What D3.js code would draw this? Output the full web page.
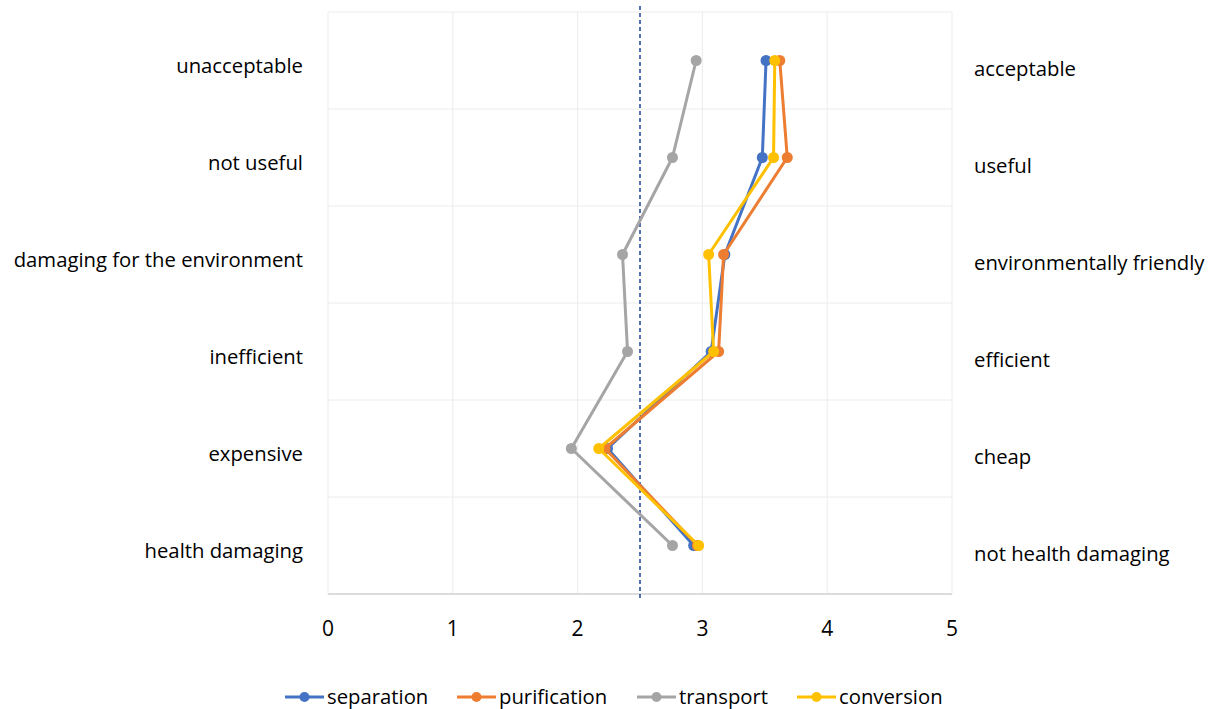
<!DOCTYPE html>
<html><head><meta charset="utf-8">
<script src="https://cdn.jsdelivr.net/npm/d3@7"></script>
<style>body{margin:0;background:#fff;} text{font-family:"Open Sans",Lato,sans-serif;fill:#000;}</style>
</head><body>
<svg id="c" width="1209" height="709"></svg>
<script>
const leftLabels = ["unacceptable","not useful","damaging for the environment","inefficient","expensive","health damaging"];
const rightLabels = ["acceptable","useful","environmentally friendly","efficient","cheap","not health damaging"];
const xTicks = [0,1,2,3,4,5];
const seriesNames = ["separation","purification","transport","conversion"];
const seriesColors = ["#4472C4","#ED7D31","#A5A5A5","#FFC000"];
const separation = [3.51,3.48,3.18,3.07,2.24,2.93];
const purification = [3.62,3.68,3.17,3.13,2.22,2.96];
const transport = [2.95,2.76,2.36,2.40,1.95,2.76];
const conversion = [3.58,3.57,3.05,3.09,2.17,2.97];
const midline = 2.5;

const values = [separation,purification,transport,conversion];
const svg = d3.select("#c");
const L=328,R=952,T=12,B=594;
const x = d3.scaleLinear().domain([0,5]).range([L,R]);
const yBand = d3.scaleBand().domain(d3.range(6)).range([T,B]);
const yc = i => yBand(i)+yBand.bandwidth()/2;

// grid
const g = svg.append("g");
g.selectAll("line.v").data(xTicks).join("line")
  .attr("x1",d=>x(d)).attr("x2",d=>x(d)).attr("y1",T).attr("y2",B)
  .attr("stroke","#ececec").attr("stroke-width",1);
g.selectAll("line.h").data(d3.range(6)).join("line")
  .attr("x1",L).attr("x2",R).attr("y1",d=>yBand(d)).attr("y2",d=>yBand(d))
  .attr("stroke","#ececec").attr("stroke-width",1);
g.append("line").attr("x1",L).attr("x2",R).attr("y1",B).attr("y2",B).attr("stroke","#d0d0d0").attr("stroke-width",1.5);

// x axis labels
svg.selectAll("text.xt").data(xTicks).join("text")
  .attr("x",d=>x(d)).attr("y",636).attr("text-anchor","middle")
  .style("font-size","21px").text(d=>d);

// midline
svg.append("line").attr("x1",x(midline)).attr("x2",x(midline)).attr("y1",6).attr("y2",599)
  .attr("stroke","#1f3f99").attr("stroke-width",1.5).attr("stroke-dasharray","4,3");

// category labels
svg.selectAll("text.ll").data(leftLabels).join("text")
  .attr("x",303).attr("y",(d,i)=>yc(i)+12).attr("text-anchor","end")
  .style("font-size","20.3px").text(d=>d);
svg.selectAll("text.rl").data(rightLabels).join("text")
  .attr("x",974).attr("y",(d,i)=>yc(i)+15).attr("text-anchor","start")
  .style("font-size","20.3px").text(d=>d);

// series
const line = d3.line().x(d=>x(d)).y((d,i)=>yc(i));
values.forEach((vals,si)=>{
  const sg = svg.append("g");
  sg.append("path").attr("d",line(vals)).attr("fill","none")
    .attr("stroke",seriesColors[si]).attr("stroke-width",3).attr("stroke-linejoin","round");
  sg.selectAll("circle").data(vals).join("circle")
    .attr("cx",d=>x(d)).attr("cy",(d,i)=>yc(i)).attr("r",5.5).attr("fill",seriesColors[si]);
});

// legend
const legX = [285,457,637,797];
seriesNames.forEach((n,i)=>{
  const lg = svg.append("g").attr("transform",`translate(${legX[i]},697)`);
  lg.append("line").attr("x1",0).attr("x2",39).attr("y1",0).attr("y2",0).attr("stroke",seriesColors[i]).attr("stroke-width",3);
  lg.append("circle").attr("cx",19.5).attr("cy",0).attr("r",5).attr("fill",seriesColors[i]);
  lg.append("text").attr("x",42).attr("y",7).style("font-size","20.3px").text(n);
});
</script>
</body></html>
